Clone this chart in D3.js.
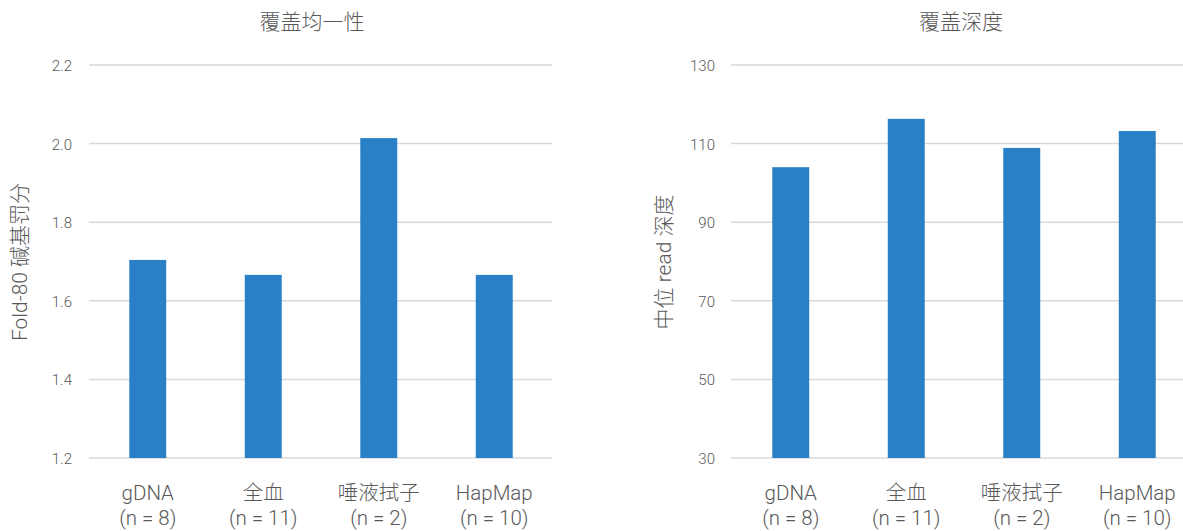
<!DOCTYPE html>
<html>
<head>
<meta charset="utf-8">
<script src="https://cdn.jsdelivr.net/npm/d3@7"></script>
<style>
  html, body { margin: 0; padding: 0; background: #fff; }
  svg { display: block; }
  text { font-family: Roboto, "Noto Sans CJK SC", sans-serif; fill: #595959; font-weight: 300; }
</style>
</head>
<body>
<svg id="chart" width="1183" height="531"></svg>
<script>
const categories = ["gDNA", "全血", "唾液拭子", "HapMap"];
const sampleCounts = ["(n = 8)", "(n = 11)", "(n = 2)", "(n = 10)"];

const fold80Values = [1.704, 1.666, 2.014, 1.666];
const fold80Ticks = [1.2, 1.4, 1.6, 1.8, 2.0, 2.2];
const fold80Title = "覆盖均一性";
const fold80AxisLabel = "Fold-80 碱基罚分";

const depthValues = [104.0, 116.3, 108.9, 113.2];
const depthTicks = [30, 50, 70, 90, 110, 130];
const depthTitle = "覆盖深度";
const depthAxisLabel = "中位 read 深度";

const svg = d3.select("#chart");
const barColor = "#2a80c6";
const gridColor = "#d9d9d9";

function drawPanel(cfg) {
  const g = svg.append("g");
  const x = d3.scaleBand()
    .domain(categories)
    .range([cfg.x0, cfg.x1])
    .paddingInner(0.68)
    .paddingOuter(0.34);
  const y = d3.scaleLinear()
    .domain([cfg.ticks[0], cfg.ticks[cfg.ticks.length - 1]])
    .range([458, 65]);

  g.append("g").selectAll("line")
    .data(cfg.ticks)
    .join("line")
    .attr("x1", cfg.gx0)
    .attr("x2", cfg.gx1)
    .attr("y1", d => y(d))
    .attr("y2", d => y(d))
    .attr("stroke", gridColor)
    .attr("stroke-width", 1.5);

  const axis = d3.axisLeft(y)
    .tickValues(cfg.ticks)
    .tickFormat(cfg.fmt)
    .tickSize(0)
    .tickPadding(0);
  const ax = g.append("g")
    .attr("transform", `translate(${cfg.labelRight},0)`)
    .call(axis);
  ax.select(".domain").remove();
  ax.selectAll("text")
    .attr("font-size", 15)
    .attr("font-family", null)
    .attr("fill", "#595959")
    .attr("dy", "0.36em");

  g.append("g").selectAll("rect")
    .data(cfg.values)
    .join("rect")
    .attr("x", (d, i) => x(categories[i]))
    .attr("width", x.bandwidth())
    .attr("y", d => y(d))
    .attr("height", d => y(cfg.ticks[0]) - y(d))
    .attr("fill", barColor);

  const cl = g.append("g").selectAll("text")
    .data(categories)
    .join("text")
    .attr("text-anchor", "middle")
    .attr("font-size", 20.5)
    .attr("x", d => x(d) + x.bandwidth() / 2);
  cl.append("tspan")
    .attr("x", d => x(d) + x.bandwidth() / 2)
    .attr("y", 500)
    .text(d => d);
  cl.append("tspan")
    .attr("x", d => x(d) + x.bandwidth() / 2)
    .attr("y", 525)
    .text((d, i) => sampleCounts[i]);

  g.append("text")
    .attr("x", cfg.titleX)
    .attr("y", 29)
    .attr("text-anchor", "middle")
    .attr("font-size", 21)
    .text(cfg.title);

  g.append("text")
    .attr("transform", `translate(${cfg.axisLabelX},262) rotate(-90)`)
    .attr("text-anchor", "middle")
    .attr("dy", "0.35em")
    .attr("font-size", 21)
    .text(cfg.axisLabel);
}

drawPanel({
  x0: 90, x1: 552, gx0: 89, gx1: 552,
  values: fold80Values, ticks: fold80Ticks,
  fmt: d3.format(".1f"),
  labelRight: 72,
  title: fold80Title, titleX: 312,
  axisLabel: fold80AxisLabel, axisLabelX: 19.5
});

drawPanel({
  x0: 733, x1: 1195, gx0: 731, gx1: 1183,
  values: depthValues, ticks: depthTicks,
  fmt: d3.format("d"),
  labelRight: 715,
  title: depthTitle, titleX: 961,
  axisLabel: depthAxisLabel, axisLabelX: 664
});
</script>
</body>
</html>
